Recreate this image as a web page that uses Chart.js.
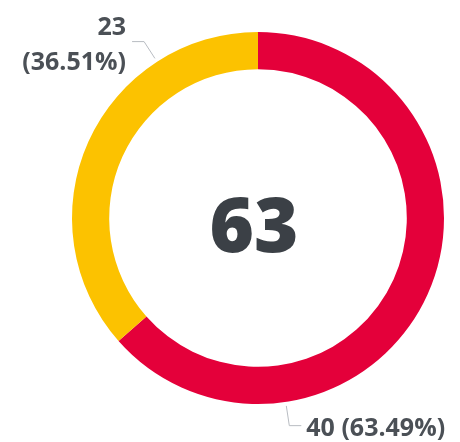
<!DOCTYPE html>
<html>
<head>
<meta charset="utf-8">
<script src="https://cdn.jsdelivr.net/npm/chart.js@4"></script>
<style>
	html, body { margin: 0; padding: 0; background: #fff; }
	#wrap { width: 460px; height: 442px; }
</style>
</head>
<body>
<div id="wrap"><canvas id="donutChart"></canvas></div>
<script>
let labels = ['Red', 'Yellow'];
let counts = [40, 23];
let colors = ['#e4003a', '#fcc200'];

let total = counts.reduce((a, b) => a + b, 0);

// labels with leader lines + total in the middle
const donutLabels = {
	id: 'donutLabels',
	afterDraw(chart) {
		const ctx = chart.ctx;
		const arcs = chart.getDatasetMeta(0).data;
		ctx.save();
		arcs.forEach((arc, i) => {
			const a = arc.startAngle + 0.75 * (arc.endAngle - arc.startAngle);
			const r1 = arc.outerRadius + 4, r2 = arc.outerRadius + 24;
			const x1 = arc.x + Math.cos(a) * r1, y1 = arc.y + Math.sin(a) * r1;
			const x2 = arc.x + Math.cos(a) * r2, y2 = arc.y + Math.sin(a) * r2;
			const left = x2 < arc.x;
			const x3 = x2 + (left ? -12 : 12);
			ctx.strokeStyle = '#b8bcc2';
			ctx.lineWidth = 1;
			ctx.beginPath();
			ctx.moveTo(x1, y1);
			ctx.lineTo(x2, y2);
			ctx.lineTo(x3, y2);
			ctx.stroke();

			const pct = (counts[i] / total * 100).toFixed(2) + '%';
			ctx.font = 'bold 25px "Open Sans"';
			ctx.fillStyle = '#4b5056';
			ctx.textBaseline = 'middle';
			ctx.textAlign = left ? 'right' : 'left';
			const tx = x3 + (left ? -6 : 5);
			const one = counts[i] + ' (' + pct + ')';
			const room = left ? tx : chart.width - tx;
			if (ctx.measureText(one).width <= room) {
				ctx.fillText(one, tx, y2 + 3);
			} else {
				ctx.fillText(String(counts[i]), tx, y2 - 14);
				ctx.fillText('(' + pct + ')', tx, y2 + 21);
			}
		});
		const c = arcs[0];
		ctx.font = '800 76px "Open Sans"';
		ctx.fillStyle = '#3b4046';
		ctx.textAlign = 'center';
		ctx.textBaseline = 'middle';
		ctx.fillText(String(total), c.x - 4, c.y + 12);
		ctx.restore();
	}
};

var ctx = document.getElementById('donutChart').getContext('2d');
var donutChart = new Chart(ctx, {
	type: 'doughnut',
	data: {
		labels: labels,
		datasets: [{
			data: counts,
			backgroundColor: colors,
			borderWidth: 0
		}]
	},
	options: {
		responsive: true,
		maintainAspectRatio: false,
		animation: false,
		cutout: '80%',
		layout: {
			padding: { left: 72, right: 16, top: 32, bottom: 38 }
		},
		plugins: {
			legend: { display: false },
			tooltip: { enabled: false }
		}
	},
	plugins: [donutLabels]
});
</script>
</body>
</html>
